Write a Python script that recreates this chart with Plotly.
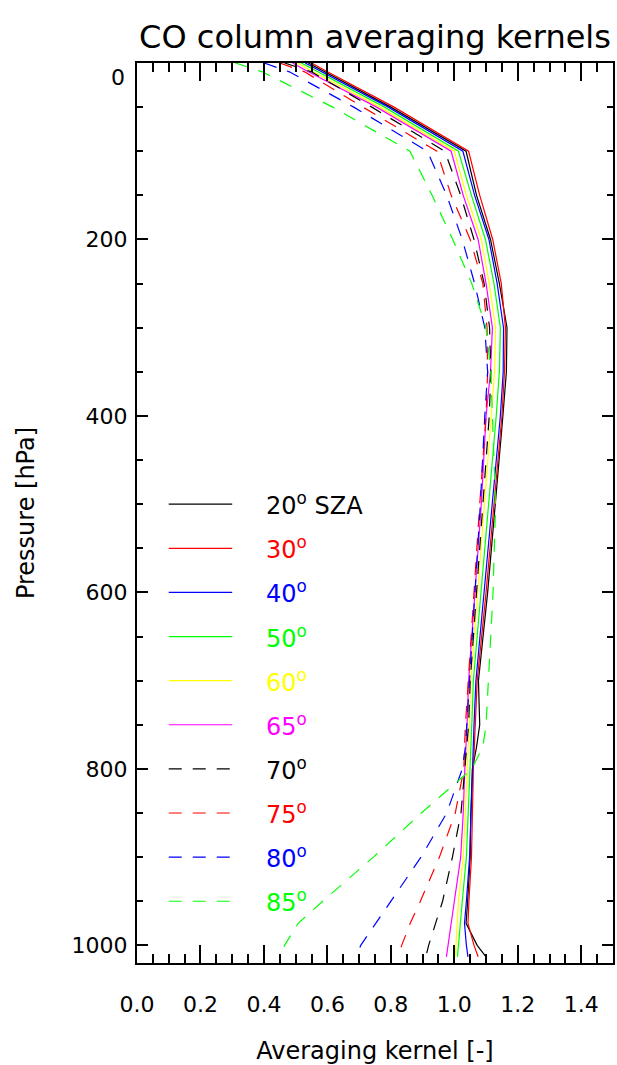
import plotly.graph_objects as go

# Pressure levels [hPa]
pressure = [0, 10, 50, 100, 150, 200, 250, 300, 350, 400, 500, 600, 700,
            750, 775, 800, 850, 900, 950, 975, 1000, 1013]

# Solar zenith angles (legend labels)
sza_labels = ["20", "30", "40", "50", "60", "65", "70", "75", "80", "85"]

# Column averaging kernels for each SZA
ak_20 = [0.540, 0.592, 0.800, 1.037, 1.070, 1.114, 1.142, 1.166, 1.164, 1.153, 1.128, 1.105, 1.076,
         1.080, 1.070, 1.057, 1.052, 1.050, 1.042, 1.037, 1.072, 1.100]
ak_30 = [0.550, 0.600, 0.810, 1.045, 1.080, 1.121, 1.148, 1.161, 1.158, 1.150, 1.125, 1.100, 1.072,
         1.066, 1.063, 1.060, 1.057, 1.054, 1.046, 1.043, 1.062, 1.075]
ak_40 = [0.530, 0.583, 0.792, 1.027, 1.064, 1.109, 1.135, 1.155, 1.154, 1.145, 1.120, 1.095, 1.068,
         1.062, 1.060, 1.057, 1.052, 1.048, 1.038, 1.032, 1.038, 1.043]
ak_50 = [0.518, 0.570, 0.780, 1.013, 1.054, 1.098, 1.125, 1.145, 1.142, 1.132, 1.108, 1.085, 1.060,
         1.055, 1.052, 1.050, 1.044, 1.038, 1.025, 1.018, 1.013, 1.010]
ak_60 = [0.505, 0.555, 0.765, 1.000, 1.038, 1.085, 1.110, 1.130, 1.127, 1.116, 1.095, 1.073, 1.052,
         1.047, 1.044, 1.040, 1.034, 1.028, 1.013, 1.008, 1.005, 1.003]
ak_65 = [0.490, 0.540, 0.755, 0.990, 1.028, 1.075, 1.100, 1.120, 1.114, 1.100, 1.085, 1.065, 1.045,
         1.040, 1.036, 1.033, 1.028, 1.020, 1.000, 0.990, 0.980, 0.975]
ak_70 = [0.465, 0.550, 0.740, 0.970, 1.020, 1.062, 1.094, 1.111, 1.115, 1.110, 1.090, 1.070, 1.050,
         1.045, 1.040, 1.033, 1.021, 0.994, 0.963, 0.940, 0.919, 0.910]
ak_75 = [0.450, 0.528, 0.712, 0.945, 0.990, 1.050, 1.090, 1.103, 1.105, 1.100, 1.080, 1.062, 1.042,
         1.035, 1.032, 1.030, 1.003, 0.953, 0.893, 0.861, 0.834, 0.822]
ak_80 = [0.401, 0.480, 0.683, 0.915, 0.976, 1.025, 1.064, 1.096, 1.105, 1.096, 1.082, 1.065, 1.048,
         1.040, 1.035, 1.025, 0.976, 0.895, 0.800, 0.755, 0.705, 0.690]
ak_85 = [0.310, 0.395, 0.617, 0.860, 0.930, 0.995, 1.055, 1.100, 1.115, 1.120, 1.130, 1.122, 1.108,
         1.100, 1.090, 1.055, 0.896, 0.745, 0.585, 0.508, 0.465, 0.450]

x_ticks = [0.0, 0.2, 0.4, 0.6, 0.8, 1.0, 1.2, 1.4]
y_ticks = [0, 200, 400, 600, 800, 1000]

series = [ak_20, ak_30, ak_40, ak_50, ak_60, ak_65, ak_70, ak_75, ak_80, ak_85]
colors = ["#000000", "#ff0000", "#0000ff", "#00ff00", "#ffff00", "#ff00ff",
          "#000000", "#ff0000", "#0000ff", "#00ff00"]
dashes = ["solid"] * 6 + ["13px,11px"] * 4

FONT = "DejaVu Sans"

fig = go.Figure()
for vals, col, dsh in zip(series, colors, dashes):
    fig.add_trace(go.Scatter(x=vals, y=pressure, mode="lines",
                             line=dict(color=col, width=1.2, dash=dsh),
                             showlegend=False, hoverinfo="skip"))

# Legend drawn inside the plot (IDL style)
leg_p0, leg_dp = 500, 50
leg_x0, leg_x1, leg_tx = 0.1, 0.3, 0.40
shapes = []
annotations = []
for i, (lab, col, dsh) in enumerate(zip(sza_labels, colors, dashes)):
    p = leg_p0 + leg_dp * i
    shapes.append(dict(type="line", xref="x", yref="y", x0=leg_x0, x1=leg_x1, y0=p, y1=p,
                       line=dict(color=col, width=1.2, dash=dsh)))
    txt = f"{lab}<sup>o</sup>" + (" SZA" if i == 0 else "")
    annotations.append(dict(xref="x", yref="y", x=leg_tx, y=p, text=txt, showarrow=False,
                            xanchor="left", yanchor="middle",
                            font=dict(family=FONT, size=24, color=col)))

# "0" label of the pressure axis (placed slightly below the top, as in IDL)
annotations.append(dict(xref="paper", yref="y", x=0, y=y_ticks[0], text=str(y_ticks[0]),
                        showarrow=False, xanchor="right", yanchor="middle", xshift=-10, yshift=-14,
                        font=dict(family=FONT, size=22, color="black")))

fig.update_layout(
    width=617, height=1065,
    margin=dict(l=137, r=2, t=63, b=97),
    paper_bgcolor="white", plot_bgcolor="white",
    title=dict(text="CO column averaging kernels", x=0.5, xref="paper", xanchor="center",
               y=1 - 37.0 / 1065, yref="container", yanchor="middle",
               font=dict(family=FONT, size=32, color="black")),
    shapes=shapes, annotations=annotations,
    font=dict(family=FONT, color="black"),
)

fig.update_xaxes(
    range=[0, 1.5], tickvals=x_ticks, ticktext=[f"{v:.1f}" for v in x_ticks],
    ticks="inside", ticklen=18, tickwidth=1.5, tickcolor="black",
    minor=dict(ticks="inside", ticklen=9, dtick=0.05, tick0=0, tickwidth=1.5, tickcolor="black"),
    showline=True, linewidth=2, linecolor="black", mirror="ticks",
    showgrid=False, zeroline=False,
    tickfont=dict(family=FONT, size=22, color="black"), ticklabelstandoff=21,
    title=dict(text="Averaging kernel [-]", font=dict(family=FONT, size=24, color="black"), standoff=29),
)
fig.update_yaxes(
    range=[1020, 0], tickvals=y_ticks,
    ticktext=[""] + [str(v) for v in y_ticks[1:]],
    ticks="inside", ticklen=11, tickwidth=1.5, tickcolor="black",
    minor=dict(ticks="inside", ticklen=6, dtick=50, tick0=0, tickwidth=1.5, tickcolor="black"),
    showline=True, linewidth=2, linecolor="black", mirror="ticks",
    showgrid=False, zeroline=False,
    tickfont=dict(family=FONT, size=22, color="black"), ticklabelstandoff=3,
    title=dict(text="Pressure [hPa]", font=dict(family=FONT, size=24, color="black"), standoff=30),
)

fig.write_html("out.html", config={"displayModeBar": False},
               post_script="document.body.style.margin='0px';document.body.style.overflow='hidden';")
